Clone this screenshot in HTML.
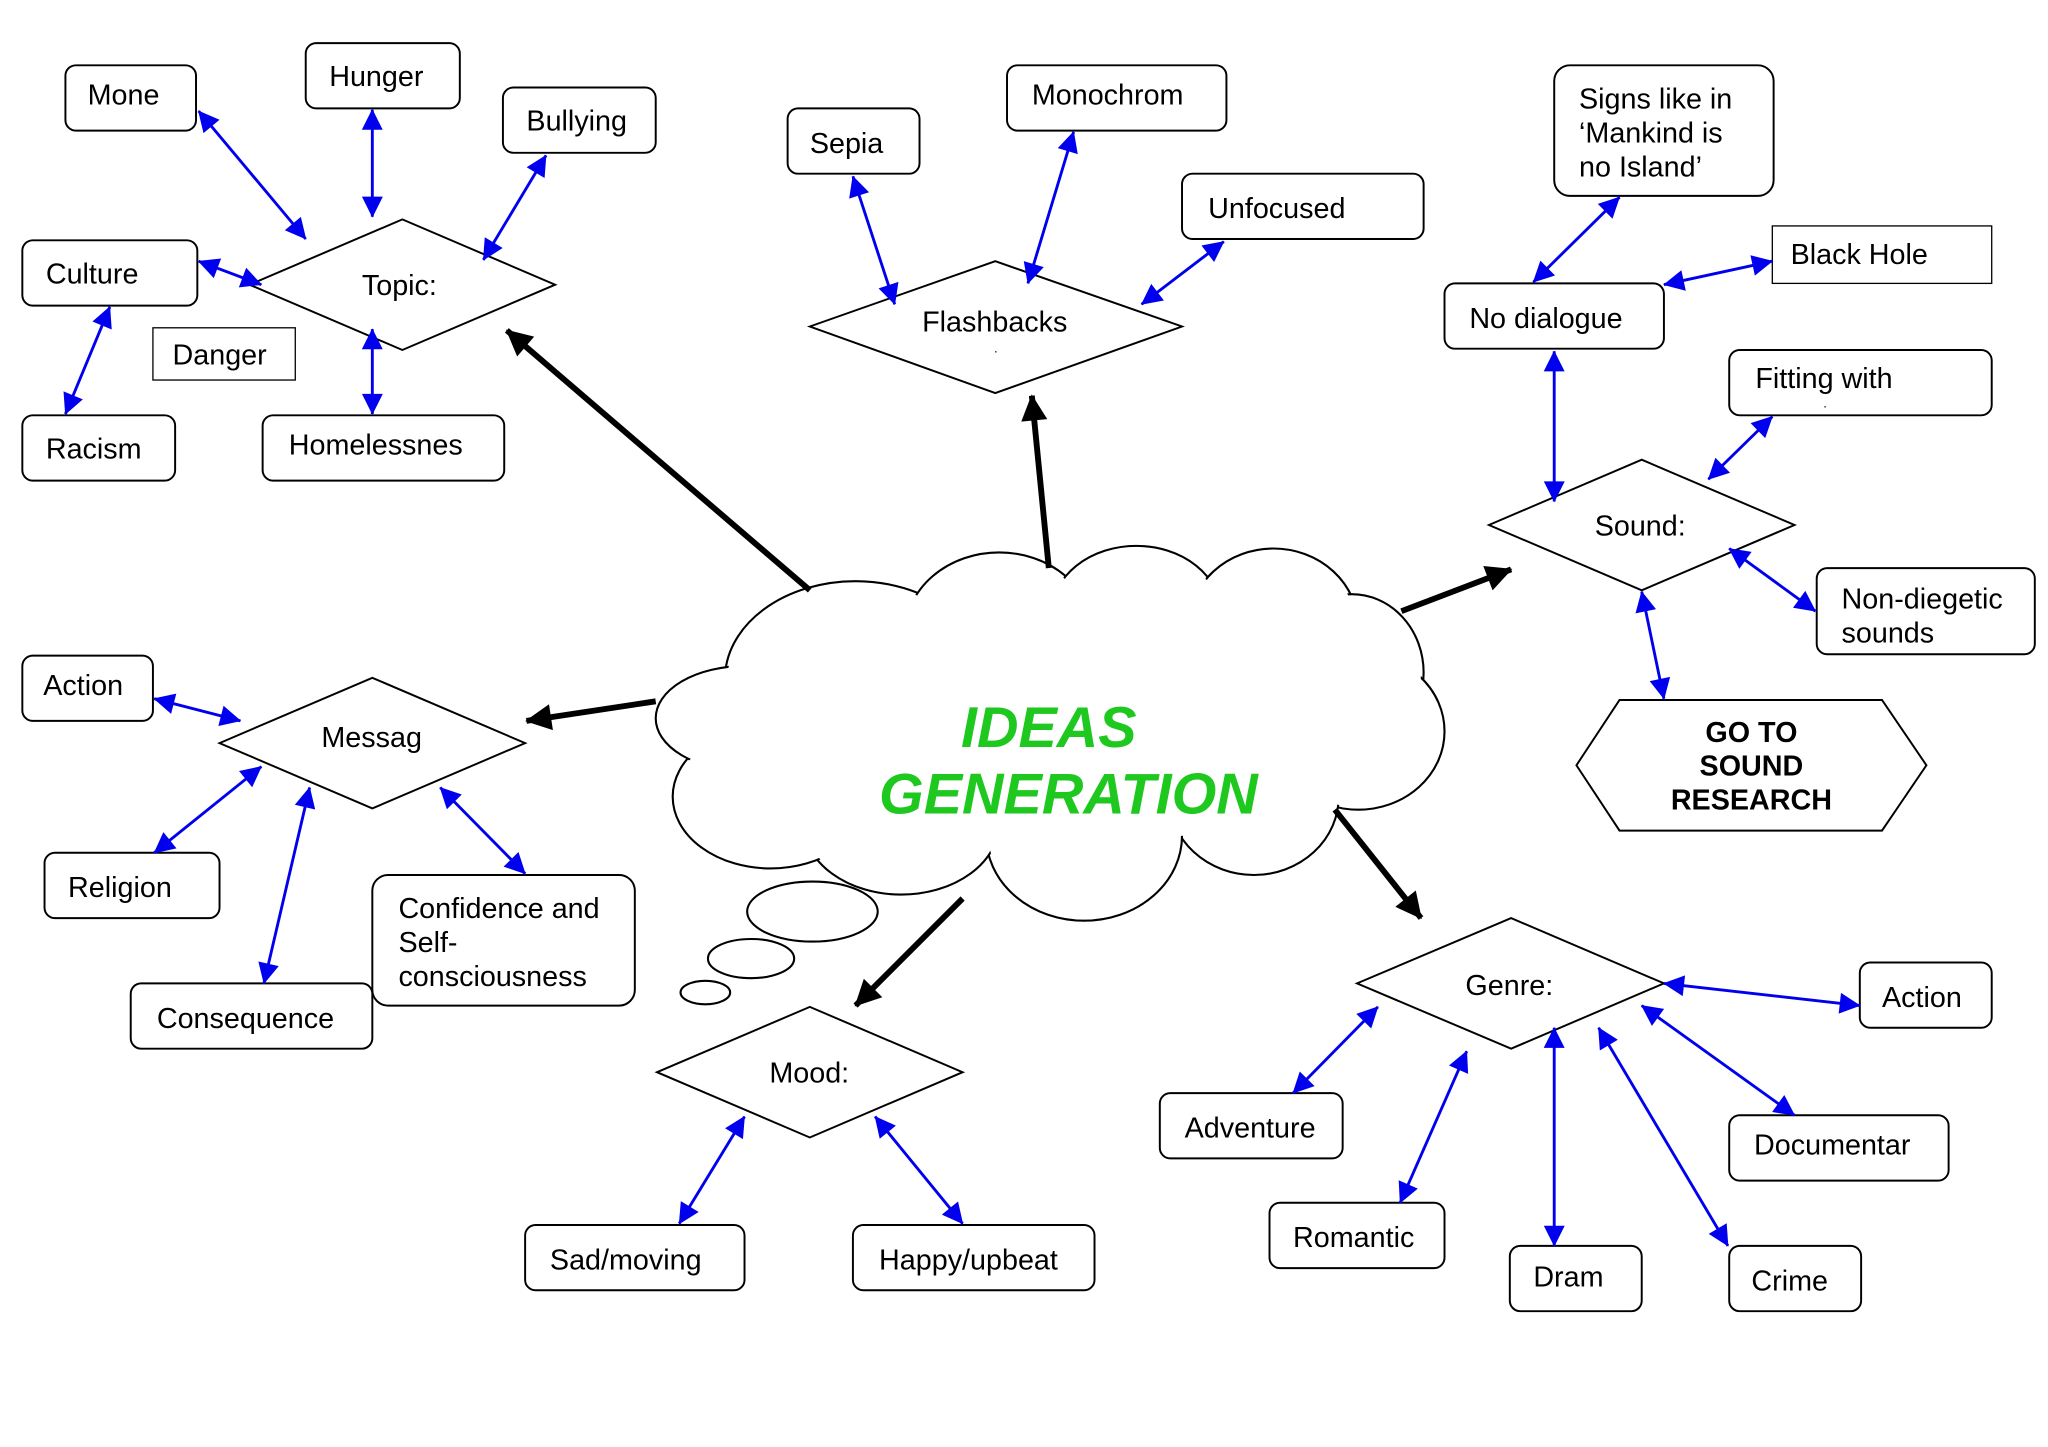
<!DOCTYPE html>
<html><head><meta charset="utf-8"><style>
html,body{margin:0;padding:0;background:#fff}
svg{display:block}
text{font-family:"Liberation Sans",Arial,sans-serif;font-size:22px;fill:#000}
</style></head><body>
<svg width="2048" height="1447" viewBox="0 0 1568 1108" xmlns="http://www.w3.org/2000/svg">
<defs>
<marker id="b" viewBox="0 0 10 10" refX="9" refY="5" markerWidth="10" markerHeight="10" orient="auto-start-reverse" markerUnits="userSpaceOnUse" style="overflow:visible">
<path d="M0,0 L10,5 L0,10 z" fill="#0000ee" transform="scale(1.6) translate(-4,-1.9)"/></marker>
<marker id="k" viewBox="0 0 10 10" refX="9" refY="5" markerWidth="10" markerHeight="10" orient="auto" markerUnits="userSpaceOnUse" style="overflow:visible">
<path d="M0,0 L10,5 L0,10 z" fill="#000" transform="scale(2) translate(-5,-2.5)"/></marker>
</defs>
<!-- cloud -->
<g stroke="#000" stroke-width="1.6" fill="#fff">
<ellipse cx="655" cy="520" rx="100" ry="75"/>
<ellipse cx="765" cy="485" rx="72" ry="62"/>
<ellipse cx="870" cy="470" rx="65" ry="52"/>
<ellipse cx="975" cy="480" rx="65" ry="60"/>
<ellipse cx="1035" cy="515" rx="55" ry="60"/>
<ellipse cx="1040" cy="560" rx="66" ry="60"/>
<ellipse cx="960" cy="610" rx="65" ry="60"/>
<ellipse cx="830" cy="640" rx="75" ry="65"/>
<ellipse cx="690" cy="630" rx="75" ry="55"/>
<ellipse cx="590" cy="610" rx="75" ry="55"/>
<ellipse cx="570" cy="550" rx="68" ry="40"/>
</g>
<g fill="#fff">
<ellipse cx="655" cy="520" rx="98" ry="73"/>
<ellipse cx="765" cy="485" rx="70" ry="60"/>
<ellipse cx="870" cy="470" rx="63" ry="50"/>
<ellipse cx="975" cy="480" rx="63" ry="58"/>
<ellipse cx="1035" cy="515" rx="53" ry="58"/>
<ellipse cx="1040" cy="560" rx="64" ry="58"/>
<ellipse cx="960" cy="610" rx="63" ry="58"/>
<ellipse cx="830" cy="640" rx="73" ry="63"/>
<ellipse cx="690" cy="630" rx="73" ry="53"/>
<ellipse cx="590" cy="610" rx="73" ry="53"/>
<ellipse cx="570" cy="550" rx="66" ry="38"/>
<rect x="640" y="500" width="360" height="140"/>
</g>
<g stroke="#000" stroke-width="1.6" fill="#fff">
<ellipse cx="622" cy="698" rx="50" ry="23"/>
<ellipse cx="575" cy="734" rx="33" ry="15"/>
<ellipse cx="540" cy="760" rx="19" ry="9"/>
</g>
<text x="803" y="572" text-anchor="middle" style="font-size:44px;font-weight:bold;font-style:italic;fill:#1ec81e">IDEAS</text>
<text x="818" y="623" text-anchor="middle" style="font-size:44px;font-weight:bold;font-style:italic;fill:#1ec81e">GENERATION</text>

<g stroke="#000" stroke-width="4.5" marker-end="url(#k)">
<line x1="620" y1="452" x2="388" y2="253"/>
<line x1="803" y1="435" x2="790" y2="303"/>
<line x1="1073" y1="468" x2="1157" y2="436"/>
<line x1="502" y1="537" x2="403" y2="552"/>
<line x1="1022" y1="620" x2="1088" y2="703"/>
<line x1="737" y1="688" x2="655" y2="770"/>
</g>

<g stroke="#000" stroke-width="1.5" fill="#fff">
<rect x="50" y="50" width="100" height="50" rx="8"/>
<rect x="234" y="33" width="118" height="50" rx="8"/>
<rect x="385" y="67" width="117" height="50" rx="8"/>
<rect x="17" y="184" width="134" height="50" rx="8"/>
<rect x="117" y="251" width="109" height="40" stroke-width="1"/>
<rect x="17" y="318" width="117" height="50" rx="8"/>
<rect x="201" y="318" width="185" height="50" rx="8"/>
<polygon points="191,218 308,168 425,218 308,268"/>
<rect x="603" y="83" width="101" height="50" rx="8"/>
<rect x="771" y="50" width="168" height="50" rx="8"/>
<rect x="905" y="133" width="185" height="50" rx="8"/>
<polygon points="620,250 762,200 905,250 762,301"/>
<rect x="1190" y="50" width="168" height="100" rx="12"/>
<rect x="1357" y="173" width="168" height="44" stroke-width="1"/>
<rect x="1106" y="217" width="168" height="50" rx="8"/>
<rect x="1324" y="268" width="201" height="50" rx="8"/>
<polygon points="1140,402 1257,352 1374,402 1257,452"/>
<rect x="1391" y="435" width="167" height="66" rx="8"/>
<polygon points="1207,586 1240,536 1441,536 1475,586 1441,636 1240,636"/>
<rect x="17" y="502" width="100" height="50" rx="8"/>
<polygon points="168,569 285,519 402,569 285,619"/>
<rect x="34" y="653" width="134" height="50" rx="8"/>
<rect x="285" y="670" width="201" height="100" rx="12"/>
<rect x="100" y="753" width="185" height="50" rx="8"/>
<polygon points="503,821 620,771 737,821 620,871"/>
<rect x="402" y="938" width="168" height="50" rx="8"/>
<rect x="653" y="938" width="185" height="50" rx="8"/>
<polygon points="1039,753 1157,703 1274,753 1157,803"/>
<rect x="1424" y="737" width="101" height="50" rx="8"/>
<rect x="888" y="837" width="140" height="50" rx="8"/>
<rect x="1324" y="854" width="168" height="50" rx="8"/>
<rect x="972" y="921" width="134" height="50" rx="8"/>
<rect x="1156" y="954" width="101" height="50" rx="8"/>
<rect x="1324" y="954" width="101" height="50" rx="8"/>
</g>

<g stroke="#0000ee" stroke-width="2.2" marker-start="url(#b)" marker-end="url(#b)">
<line x1="152" y1="85" x2="234" y2="183"/>
<line x1="285" y1="84" x2="285" y2="166"/>
<line x1="418" y1="119" x2="370" y2="199"/>
<line x1="152" y1="200" x2="200" y2="218"/>
<line x1="84" y1="235" x2="50" y2="317"/>
<line x1="285" y1="252" x2="285" y2="317"/>
<line x1="653" y1="135" x2="685" y2="233"/>
<line x1="822" y1="101" x2="787" y2="217"/>
<line x1="937" y1="185" x2="874" y2="233"/>
<line x1="1240" y1="151" x2="1174" y2="216"/>
<line x1="1357" y1="200" x2="1274" y2="218"/>
<line x1="1190" y1="269" x2="1190" y2="384"/>
<line x1="1357" y1="319" x2="1308" y2="367"/>
<line x1="1324" y1="420" x2="1390" y2="468"/>
<line x1="1257" y1="453" x2="1274" y2="535"/>
<line x1="118" y1="535" x2="184" y2="552"/>
<line x1="200" y1="587" x2="118" y2="653"/>
<line x1="237" y1="603" x2="202" y2="753"/>
<line x1="337" y1="603" x2="402" y2="669"/>
<line x1="570" y1="855" x2="520" y2="937"/>
<line x1="670" y1="855" x2="737" y2="937"/>
<line x1="1055" y1="771" x2="990" y2="837"/>
<line x1="1123" y1="805" x2="1072" y2="921"/>
<line x1="1190" y1="787" x2="1190" y2="954"/>
<line x1="1224" y1="787" x2="1323" y2="954"/>
<line x1="1257" y1="770" x2="1374" y2="854"/>
<line x1="1274" y1="753" x2="1424" y2="770"/>
</g>

<text x="67" y="80">Mone</text>
<text x="252" y="66">Hunger</text>
<text x="403" y="100">Bullying</text>
<text x="35" y="217">Culture</text>
<text x="132" y="279">Danger</text>
<text x="35" y="351">Racism</text>
<text x="221" y="348">Homelessnes</text>
<text x="277" y="226">Topic:</text>
<text x="620" y="117">Sepia</text>
<text x="790" y="80">Monochrom</text>
<text x="925" y="167">Unfocused</text>
<text x="706" y="254">Flashbacks</text>
<text x="761" y="270" style="font-size:10px">.</text>
<text x="1209" y="83">Signs like in</text>
<text x="1209" y="109">‘Mankind is</text>
<text x="1209" y="135">no Island’</text>
<text x="1371" y="202">Black Hole</text>
<text x="1125" y="251">No dialogue</text>
<text x="1344" y="297">Fitting with</text>
<text x="1396" y="312" style="font-size:10px">.</text>
<text x="1221" y="410">Sound:</text>
<text x="1410" y="466">Non-diegetic</text>
<text x="1410" y="492">sounds</text>
<text x="1341" y="568" text-anchor="middle" style="font-weight:bold">GO TO</text>
<text x="1341" y="594" text-anchor="middle" style="font-weight:bold">SOUND</text>
<text x="1341" y="620" text-anchor="middle" style="font-weight:bold">RESEARCH</text>
<text x="33" y="532">Action</text>
<text x="246" y="572">Messag</text>
<text x="52" y="687">Religion</text>
<text x="305" y="703">Confidence and</text>
<text x="305" y="729">Self-</text>
<text x="305" y="755">consciousness</text>
<text x="120" y="787">Consequence</text>
<text x="589" y="829">Mood:</text>
<text x="421" y="972">Sad/moving</text>
<text x="673" y="972">Happy/upbeat</text>
<text x="1122" y="762">Genre:</text>
<text x="1441" y="771">Action</text>
<text x="907" y="871">Adventure</text>
<text x="1343" y="884">Documentar</text>
<text x="990" y="955">Romantic</text>
<text x="1174" y="985">Dram</text>
<text x="1341" y="988">Crime</text>
</svg>
</body></html>
